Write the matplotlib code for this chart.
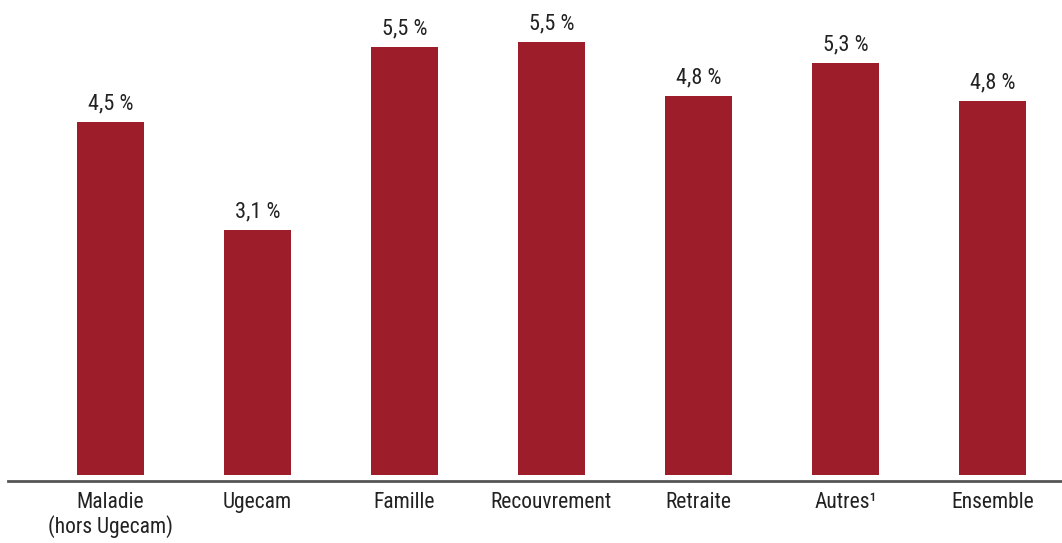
import matplotlib.pyplot as plt

categories = ["Maladie\n(hors Ugecam)", "Ugecam", "Famille", "Recouvrement",
              "Retraite", "Autres\u00b9", "Ensemble"]
values = [4.51, 3.13, 5.46, 5.53, 4.84, 5.26, 4.78]

bar_color = "#9e1d2b"
text_color = "#222222"

plt.rcParams['font.family'] = ['Roboto Condensed', 'Archivo Narrow', 'PT Sans Narrow',
                               'Liberation Sans', 'DejaVu Sans']

fig = plt.figure(figsize=(10.62, 5.43), dpi=100)
ax = fig.add_axes([8 / 1062, 62 / 543, 1054 / 1062, 481 / 543])

x = range(len(categories))
bars = ax.bar(x, values, width=0.456, color=bar_color, zorder=2)

for rect, v in zip(bars, values):
    ax.annotate(f"{v:.1f} %".replace(".", ","),
                (rect.get_x() + rect.get_width() / 2, rect.get_height()),
                xytext=(0, 5.5), textcoords="offset points",
                ha="center", va="bottom", fontsize=16, color=text_color)

ax.set_xlim(-0.697, 6.473)
ax.set_ylim(-0.077, 6.066)
ax.set_xticks(list(x))
ax.set_xticklabels(categories, fontsize=15.5, color=text_color, linespacing=1.1)
ax.tick_params(axis="x", length=0, pad=8)
ax.set_yticks([])

for side in ("top", "right", "left"):
    ax.spines[side].set_visible(False)
ax.spines["bottom"].set_color("#555555")
ax.spines["bottom"].set_linewidth(2)

fig.savefig("out.png", dpi=100)
